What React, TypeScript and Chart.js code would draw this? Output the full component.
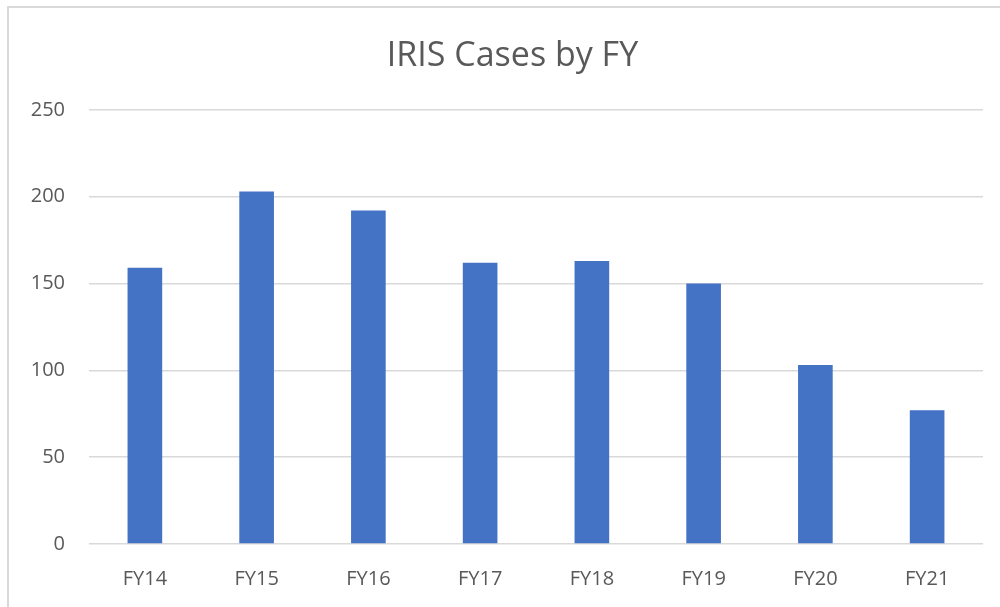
import React, { useEffect, useRef } from "react";
import { Chart, registerables } from "chart.js";

Chart.register(...registerables);

const categories = ["FY14", "FY15", "FY16", "FY17", "FY18", "FY19", "FY20", "FY21"];
const cases = [159, 203, 192, 162, 163, 150, 103, 77];
const yTicks = [0, 50, 100, 150, 200, 250];
const titleText = "IRIS Cases by FY";

const shiftTitle = {
  id: "shiftTitle",
  afterLayout(chart: any) {
    if (chart.titleBlock) {
      chart.titleBlock.left = 42;
    }
  },
};

export default function App() {
  const ref = useRef<HTMLCanvasElement | null>(null);

  useEffect(() => {
    if (!ref.current) return;
    const chart = new Chart(ref.current, {
      type: "bar",
      data: {
        labels: categories,
        datasets: [
          {
            label: "Cases",
            data: cases,
            backgroundColor: "#4472C4",
            borderWidth: 0,
            categoryPercentage: 1,
            barPercentage: 0.31,
          },
        ],
      },
      plugins: [shiftTitle],
      options: {
        animation: false,
        responsive: false,
        maintainAspectRatio: false,
        layout: { padding: { left: 0, right: 17, top: 0, bottom: 0 } },
        plugins: {
          legend: { display: false },
          tooltip: { enabled: false },
          title: {
            display: true,
            text: titleText,
            color: "#595959",
            font: { family: "'Open Sans'", size: 34, weight: "normal", lineHeight: 1.2 },
            padding: { top: 36, bottom: 33 },
          },
        },
        scales: {
          x: {
            grid: { display: false },
            border: { display: false },
            ticks: {
              color: "#595959",
              font: { family: "'Open Sans'", size: 20 },
              padding: 15,
              maxRotation: 0,
            },
            afterFit: (s: any) => {
              s.height = 63;
            },
          },
          y: {
            min: 0,
            max: 250,
            afterBuildTicks: (s: any) => {
              s.ticks = yTicks.map((v) => ({ value: v }));
            },
            grid: { color: "#d9d9d9", lineWidth: 1.5, drawTicks: false },
            border: { display: false },
            ticks: {
              color: "#595959",
              font: { family: "'Open Sans'", size: 20 },
              padding: 24,
            },
            afterFit: (s: any) => {
              s.width = 89;
            },
          },
        },
      },
    });
    return () => chart.destroy();
  }, []);

  return (
    <div style={{ position: "fixed", left: 0, top: 0, width: 1000, height: 607, background: "#fff" }}>
      <div
        style={{
          position: "fixed",
          left: 7,
          top: 6,
          width: 1020,
          height: 640,
          border: "2px solid #d9d9d9",
          boxSizing: "border-box",
        }}
      />
      <canvas ref={ref} width={1000} height={607} style={{ position: "absolute", left: 0, top: 0 }} />
    </div>
  );
}
